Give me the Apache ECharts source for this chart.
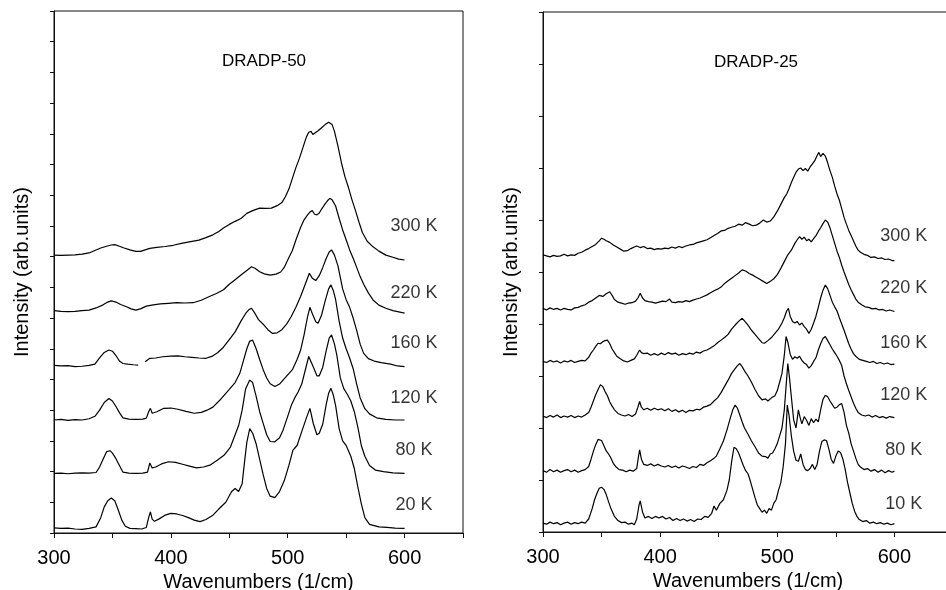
<!DOCTYPE html>
<html>
<head>
<meta charset="utf-8">
<script src="https://cdn.jsdelivr.net/npm/echarts@6/dist/echarts.min.js"></script>
<style>
html,body{margin:0;padding:0;background:#fff;}
#chart{width:946px;height:590px;}
</style>
</head>
<body>
<div id="chart"></div>
<script>
// ---------- DATA (wavenumber [1/cm], stacked intensity [arb. units]) ----------
// Left panel: DRADP-50
const L20 = [[300,0.17],[306,0.15],[312,0.16],[318,0.13],[324,0.12],[330,0.15],[336,0.2],[340,0.5],[343,0.85],[346,1.05],[349,1.14],[352,1.05],[355,0.75],[358,0.42],[361,0.22],[365,0.15],[370,0.14],[375,0.13],[379,0.18],[381,0.5],[382.5,0.69],[384,0.45],[386,0.38],[390,0.46],[395,0.58],[400,0.64],[405,0.62],[410,0.57],[415,0.5],[420,0.42],[425,0.37],[430,0.44],[436,0.58],[441,0.78],[447,1.0],[452,1.35],[455,1.45],[458,1.35],[461,1.6],[463,2.3],[465,2.95],[467.5,3.4],[470,3.25],[473,2.9],[476,2.4],[479,1.9],[482,1.45],[485,1.2],[489,1.15],[493,1.35],[497,1.7],[501,2.2],[504.5,2.7],[508,2.85],[512,3.3],[516,3.75],[519,4.06],[522,3.55],[525,3.2],[527,3.25],[530,3.55],[533,4.2],[535,4.55],[537,4.71],[539,4.5],[541,4.15],[544,3.4],[547,3.0],[550,2.85],[554,2.5],[557,2.1],[560,1.5],[563,0.95],[566,0.5],[570,0.28],[578,0.2],[585,0.18],[592,0.16],[600,0.15]];
const L80 = [[300,1.94],[306,1.95],[312,1.93],[318,1.95],[324,1.96],[330,1.95],[336,1.97],[339,2.15],[342,2.4],[345,2.65],[348,2.68],[350,2.6],[353,2.42],[356,2.2],[359,1.98],[364,1.95],[370,1.94],[376,1.95],[380,1.98],[382,2.28],[384,2.12],[387,2.15],[392,2.25],[398,2.32],[404,2.3],[410,2.24],[416,2.18],[422,2.12],[428,2.15],[434,2.22],[440,2.38],[446,2.55],[451,2.8],[455,3.2],[458,3.5],[461,4.0],[464,4.7],[467.5,4.98],[470,4.9],[473,4.45],[476,3.95],[479,3.57],[482,3.2],[485,2.98],[489,2.97],[493,3.1],[496,3.35],[500,3.8],[503,4.15],[506,4.4],[509,4.6],[512,4.85],[515,5.3],[518,5.75],[519.5,5.8],[522,5.4],[525,5.12],[527,5.12],[530,5.4],[533,5.95],[535.5,6.35],[537.5,6.45],[540,6.15],[542,5.8],[545,5.05],[548,4.7],[551,4.52],[554,4.3],[557,3.95],[560,3.45],[563,2.85],[566,2.5],[570,2.2],[575,2.05],[582,2.0],[590,1.96],[600,1.94]];
const L120 = [[300,3.68],[306,3.7],[312,3.67],[318,3.69],[324,3.68],[330,3.72],[335,3.8],[339,4.0],[343,4.25],[347,4.38],[350,4.3],[353,4.12],[356,3.92],[359,3.75],[364,3.71],[370,3.7],[376,3.71],[379,3.74],[381,3.95],[382.5,4.06],[384,3.9],[388,3.95],[394,4.06],[400,4.07],[406,4.03],[413,3.96],[420,3.9],[426,3.93],[431,4.0],[436,4.1],[442,4.33],[447,4.55],[450,4.68],[455,4.9],[459,5.2],[462,5.6],[465,6.0],[467.5,6.25],[470,6.28],[473,6.0],[476,5.65],[479,5.32],[482,5.05],[485,4.86],[489,4.77],[493,4.85],[496,4.98],[500,5.15],[504,5.32],[508,5.65],[511,5.95],[514,6.45],[517,7.05],[519,7.35],[521,7.15],[524,6.88],[526,6.83],[529,7.1],[532,7.55],[535,7.95],[537,8.08],[539,7.9],[541,7.6],[544,6.9],[547,6.35],[550,6.0],[553,5.7],[556,5.35],[559,4.85],[562,4.4],[566,4.05],[570,3.88],[576,3.75],[584,3.7],[592,3.68],[600,3.68]];
const L160 = [[300,5.46],[306,5.44],[312,5.45],[318,5.42],[324,5.43],[330,5.46],[335,5.5],[339,5.7],[343,5.88],[347,5.96],[350,5.92],[353,5.78],[356,5.6],[359,5.52],[363,5.5],[368,5.48],[372,5.47],[375,null],[378,5.58],[382,5.69],[387,5.7],[393,5.74],[400,5.76],[406,5.77],[412,5.74],[418,5.72],[424,5.7],[430,5.69],[435,5.75],[440,5.87],[445,6.05],[450,6.3],[455,6.55],[460,6.9],[464,7.15],[467,7.28],[469,7.32],[472,7.15],[475,6.95],[479,6.8],[483,6.62],[487,6.5],[491,6.52],[495,6.62],[499,6.8],[503,7.05],[507,7.35],[511,7.7],[515,8.1],[518.5,8.46],[521,8.3],[524,8.22],[527,8.38],[530,8.65],[533,8.95],[535.5,9.15],[537.5,9.22],[540,9.05],[543,8.7],[547,7.95],[550,7.6],[553,7.35],[556,7.0],[559,6.6],[562,6.15],[565,5.85],[569,5.68],[574,5.6],[580,5.55],[588,5.5],[594,5.44],[600,5.42]];
const L220 = [[300,7.24],[306,7.22],[312,7.21],[318,7.22],[324,7.24],[330,7.26],[336,7.33],[342,7.43],[346,7.52],[349,7.56],[353,7.52],[357,7.44],[362,7.37],[366,7.3],[370,7.26],[374,7.3],[379,7.39],[385,7.43],[391,7.46],[398,7.48],[405,7.5],[412,7.49],[419,7.5],[426,7.58],[433,7.7],[439,7.8],[445,7.92],[450,8.1],[455,8.25],[460,8.4],[465,8.55],[469,8.67],[472,8.62],[476,8.51],[480,8.44],[485,8.4],[490,8.43],[494,8.5],[497,8.65],[500,8.89],[504,9.2],[507,9.54],[511,9.95],[514,10.2],[517,10.36],[519,10.45],[521,10.5],[523,10.38],[525,10.36],[527,10.42],[529,10.55],[532,10.72],[534,10.82],[536,10.9],[538,10.85],[541,10.65],[544,10.25],[547,9.87],[550,9.55],[553,9.22],[556,8.95],[559,8.65],[562,8.35],[565,8.1],[569,7.82],[573,7.59],[578,7.42],[584,7.32],[590,7.24],[595,7.2],[600,7.16]];
const L300 = [[300,9.05],[306,9.04],[312,9.05],[318,9.06],[324,9.08],[330,9.12],[335,9.2],[340,9.28],[345,9.34],[349,9.38],[352,9.39],[356,9.34],[360,9.28],[365,9.22],[370,9.17],[374,9.17],[378,9.22],[382,9.27],[388,9.3],[395,9.33],[402,9.37],[410,9.44],[417,9.49],[424,9.54],[430,9.62],[436,9.71],[441,9.82],[445,9.93],[450,10.05],[455,10.15],[460,10.24],[465,10.41],[470,10.5],[476,10.58],[481,10.57],[486,10.58],[491,10.66],[495,10.76],[498,10.95],[501,11.2],[504,11.55],[507,11.9],[510,12.2],[513,12.55],[516,12.9],[518,13.05],[520,13.08],[521.5,12.98],[523,13.02],[526,13.1],[529,13.2],[532,13.3],[535,13.38],[536.5,13.4],[538,13.3],[540,13.08],[543,12.6],[546,12.05],[549,11.6],[552,11.25],[555,10.85],[558,10.5],[561,10.12],[564,9.78],[568,9.5],[573,9.32],[578,9.18],[584,9.05],[590,8.98],[595,8.92],[600,8.89]];

// Right panel: DRADP-25
const R10 = [[300,0.17],[303,0.15],[306,0.19],[309,0.16],[312,0.18],[315,0.14],[318,0.17],[321,0.19],[324,0.15],[327,0.18],[330,0.16],[333,0.19],[336,0.17],[339,0.25],[342,0.45],[344,0.62],[346,0.74],[348,0.84],[350,0.86],[352,0.82],[354,0.72],[356,0.58],[358,0.45],[361,0.3],[364,0.22],[367,0.18],[370,0.19],[373,0.15],[376,0.17],[378,0.14],[380,0.25],[382,0.52],[383,0.6],[385,0.38],[387,0.27],[390,0.3],[393,0.26],[396,0.3],[399,0.27],[402,0.3],[405,0.25],[408,0.28],[411,0.22],[414,0.26],[417,0.22],[420,0.25],[423,0.21],[426,0.24],[429,0.2],[432,0.25],[435,0.24],[438,0.3],[441,0.28],[444,0.36],[446,0.5],[448,0.42],[451,0.55],[454,0.62],[457,0.8],[459,1.0],[461,1.35],[463,1.63],[465,1.6],[467,1.52],[469,1.4],[471,1.28],[473,1.18],[475,1.12],[477,0.98],[479,0.82],[481,0.66],[483,0.52],[485,0.45],[487,0.38],[489,0.42],[491,0.36],[493,0.45],[495,0.42],[497,0.55],[499,0.62],[501,0.8],[503,0.95],[505,1.25],[507,1.7],[508.5,2.44],[510,2.25],[512,1.85],[514,1.55],[516,1.38],[518,1.36],[520,1.5],[522,1.3],[524,1.2],[526,1.18],[528,1.22],[530,1.3],[532,1.2],[534,1.3],[536,1.55],[538,1.74],[540,1.77],[542,1.76],[544,1.6],[546,1.4],[548,1.32],[550,1.46],[552,1.56],[554,1.53],[556,1.4],[558,1.2],[560,0.95],[562,0.75],[564,0.55],[566,0.4],[568,0.3],[570,0.24],[573,0.2],[576,0.22],[579,0.17],[582,0.19],[585,0.16],[588,0.18],[591,0.15],[594,0.17],[597,0.14],[600,0.16]];
const R80 = [[300,1.18],[303,1.15],[306,1.2],[309,1.16],[312,1.19],[315,1.15],[318,1.18],[321,1.2],[324,1.16],[327,1.19],[330,1.15],[333,1.18],[336,1.2],[339,1.26],[341,1.4],[343,1.55],[345,1.68],[347,1.78],[348.5,1.8],[350,1.76],[352,1.66],[354,1.56],[356,1.5],[358,1.42],[360,1.32],[362,1.26],[365,1.2],[368,1.19],[371,1.16],[374,1.19],[377,1.17],[380,1.22],[381.5,1.45],[382.5,1.58],[384,1.4],[386,1.3],[389,1.28],[392,1.31],[395,1.27],[398,1.3],[401,1.27],[404,1.25],[407,1.28],[410,1.24],[413,1.27],[416,1.23],[419,1.27],[422,1.25],[425,1.22],[428,1.26],[431,1.24],[434,1.3],[437,1.28],[440,1.33],[443,1.37],[446,1.42],[448,1.46],[451,1.6],[454,1.75],[457,1.96],[460,2.2],[462,2.35],[464,2.44],[466,2.38],[468,2.25],[470,2.12],[472,2.0],[475,1.88],[478,1.75],[481,1.64],[484,1.52],[487,1.46],[490,1.45],[492,1.42],[494,1.5],[496,1.52],[498,1.6],[500,1.7],[502,1.85],[504,2.0],[506,2.35],[507.5,2.8],[509,3.24],[510.5,2.95],[512,2.6],[514,2.15],[516,2.0],[518,2.35],[519.5,2.2],[521,2.08],[523,2.22],[525,2.15],[527,2.05],[529,2.18],[531,2.1],[533,2.17],[535,2.12],[537,2.35],[539,2.55],[541,2.63],[543,2.6],[545,2.52],[547,2.45],[549,2.38],[551,2.4],[553,2.45],[555,2.47],[557,2.3],[559,2.05],[561,1.9],[563,1.7],[565,1.56],[567,1.42],[569,1.3],[571,1.25],[574,1.2],[577,1.22],[580,1.17],[583,1.2],[586,1.15],[589,1.19],[592,1.14],[595,1.18],[598,1.15],[600,1.17]];
const R120 = [[300,2.23],[303,2.2],[306,2.24],[309,2.21],[312,2.25],[315,2.2],[318,2.23],[321,2.21],[324,2.24],[327,2.2],[330,2.23],[333,2.21],[336,2.25],[339,2.3],[341,2.4],[343,2.52],[345,2.64],[347,2.74],[349,2.83],[351,2.8],[353,2.7],[355,2.62],[357,2.5],[359,2.42],[361,2.35],[364,2.28],[367,2.25],[370,2.23],[373,2.26],[376,2.22],[379,2.27],[381,2.4],[382.5,2.51],[384,2.4],[386,2.35],[389,2.38],[392,2.34],[395,2.38],[398,2.35],[401,2.37],[404,2.33],[407,2.37],[410,2.32],[413,2.35],[416,2.31],[419,2.34],[422,2.3],[425,2.34],[428,2.33],[431,2.36],[434,2.35],[437,2.4],[440,2.42],[443,2.45],[446,2.52],[449,2.58],[452,2.68],[455,2.8],[458,2.92],[461,3.05],[464,3.14],[466,3.2],[468,3.24],[470,3.18],[472,3.1],[475,3.0],[478,2.88],[481,2.74],[484,2.62],[487,2.54],[490,2.56],[492,2.52],[495,2.58],[498,2.62],[500,2.72],[502,2.88],[504,3.05],[506,3.4],[507.5,3.76],[509,3.65],[511,3.42],[513,3.32],[515,3.37],[517,3.34],[519,3.38],[521,3.3],[523,3.25],[525,3.22],[527,3.15],[529,3.2],[531,3.28],[533,3.35],[535,3.5],[537,3.62],[539,3.72],[541,3.76],[543,3.68],[545,3.6],[547,3.52],[549,3.45],[551,3.38],[553,3.3],[555,3.2],[557,3.0],[559,2.85],[561,2.72],[563,2.6],[565,2.48],[567,2.38],[569,2.3],[572,2.25],[575,2.23],[578,2.25],[581,2.21],[584,2.24],[587,2.2],[590,2.22],[593,2.19],[596,2.22],[600,2.2]];
const R160 = [[300,3.28],[303,3.26],[306,3.3],[309,3.27],[312,3.29],[315,3.25],[318,3.29],[321,3.27],[324,3.3],[327,3.26],[330,3.28],[333,3.3],[336,3.29],[339,3.36],[341,3.44],[343,3.5],[345,3.57],[347,3.63],[349,3.62],[351,3.66],[353,3.68],[355,3.69],[357,3.62],[359,3.52],[361,3.45],[363,3.38],[366,3.33],[369,3.29],[372,3.27],[375,3.3],[378,3.33],[380,3.4],[382.5,3.5],[384,3.45],[386,3.43],[389,3.44],[392,3.4],[395,3.43],[398,3.4],[401,3.44],[404,3.41],[407,3.45],[410,3.42],[413,3.44],[416,3.4],[419,3.43],[422,3.41],[425,3.44],[428,3.42],[431,3.46],[434,3.44],[437,3.48],[440,3.5],[443,3.54],[446,3.58],[449,3.64],[452,3.69],[455,3.74],[458,3.8],[461,3.9],[464,3.98],[467,4.05],[470,4.11],[472,4.06],[475,3.98],[478,3.88],[481,3.8],[484,3.72],[487,3.64],[489,3.63],[492,3.68],[495,3.74],[498,3.82],[501,3.9],[504,4.02],[506,4.12],[508,4.25],[509.5,4.3],[511,4.15],[513,4.05],[515,4.02],[517,4.05],[519,3.98],[521,4.02],[523,3.95],[525,3.9],[527,3.82],[529,3.9],[531,4.02],[533,4.15],[535,4.32],[537,4.5],[539,4.65],[541,4.75],[543,4.68],[545,4.55],[547,4.42],[549,4.33],[551,4.25],[553,4.12],[555,4.0],[557,3.88],[559,3.75],[561,3.62],[563,3.52],[565,3.43],[567,3.38],[570,3.32],[573,3.3],[576,3.28],[579,3.26],[582,3.28],[585,3.24],[588,3.26],[591,3.23],[594,3.25],[597,3.22],[600,3.23]];
const R220 = [[300,4.3],[303,4.27],[306,4.31],[309,4.28],[312,4.3],[315,4.27],[318,4.3],[321,4.28],[324,4.27],[327,4.31],[330,4.32],[333,4.35],[336,4.37],[339,4.42],[342,4.45],[345,4.5],[348,4.55],[351,4.53],[354,4.58],[357,4.62],[359,4.55],[361,4.47],[364,4.42],[367,4.4],[370,4.38],[373,4.4],[376,4.41],[379,4.44],[381,4.5],[383,4.59],[385,4.5],[387,4.45],[390,4.43],[393,4.42],[396,4.4],[399,4.42],[402,4.44],[405,4.43],[408,4.48],[410,4.42],[413,4.41],[416,4.43],[419,4.42],[422,4.45],[425,4.43],[428,4.46],[431,4.48],[434,4.5],[437,4.53],[440,4.56],[443,4.6],[446,4.64],[449,4.67],[452,4.71],[455,4.78],[458,4.83],[461,4.88],[464,4.93],[467,4.98],[470,5.04],[473,5.02],[476,4.97],[479,4.94],[482,4.9],[485,4.86],[488,4.82],[491,4.78],[494,4.82],[497,4.87],[500,4.95],[503,5.07],[506,5.2],[509,5.33],[512,5.42],[515,5.55],[517,5.62],[519,5.68],[521,5.63],[523,5.67],[525,5.6],[527,5.63],[529,5.58],[531,5.64],[533,5.7],[535,5.78],[537,5.85],[539,5.93],[541,6.0],[543,5.96],[545,5.85],[547,5.7],[549,5.55],[551,5.4],[553,5.28],[555,5.13],[557,5.0],[559,4.88],[561,4.76],[563,4.66],[565,4.57],[567,4.48],[569,4.42],[572,4.37],[575,4.33],[578,4.32],[581,4.29],[584,4.3],[587,4.27],[590,4.28],[593,4.25],[596,4.27],[600,4.24]];
const R300 = [[300,5.33],[303,5.31],[306,5.29],[309,5.32],[312,5.3],[315,5.31],[318,5.34],[321,5.31],[324,5.33],[327,5.32],[330,5.36],[333,5.38],[336,5.42],[339,5.45],[342,5.49],[345,5.53],[348,5.6],[350,5.65],[352,5.63],[354,5.6],[357,5.57],[360,5.52],[363,5.48],[366,5.44],[369,5.4],[372,5.41],[375,5.45],[378,5.48],[380,5.5],[383,5.47],[386,5.49],[389,5.45],[392,5.46],[395,5.43],[398,5.45],[401,5.44],[404,5.46],[407,5.45],[410,5.48],[413,5.46],[416,5.49],[419,5.47],[422,5.5],[425,5.52],[428,5.53],[431,5.56],[434,5.58],[437,5.6],[440,5.62],[443,5.66],[446,5.7],[449,5.74],[452,5.79],[455,5.8],[458,5.84],[461,5.86],[464,5.88],[467,5.92],[470,5.9],[473,5.95],[476,5.92],[479,5.89],[482,5.9],[485,5.94],[488,6.0],[491,5.96],[494,5.98],[497,6.06],[500,6.17],[503,6.3],[506,6.43],[508,6.5],[510,6.6],[512,6.72],[514,6.82],[516,6.92],[518,6.98],[520,7.0],[522,6.95],[524,6.99],[526,6.94],[528,7.02],[530,7.08],[532,7.14],[534,7.24],[535.5,7.3],[537,7.22],[539,7.28],[541,7.23],[543,7.1],[545,6.95],[547,6.82],[549,6.65],[551,6.5],[553,6.38],[555,6.22],[557,6.05],[559,5.92],[561,5.8],[563,5.7],[565,5.6],[567,5.5],[569,5.42],[571,5.38],[574,5.34],[577,5.32],[580,5.28],[583,5.29],[586,5.26],[589,5.27],[592,5.24],[595,5.25],[598,5.22],[600,5.22]];

// Curve labels (temperature) and their positions in data units
const labelsLeft = ['300 K','220 K','160 K','120 K','80 K','20 K'];
const labelYLeft = [10.0, 7.82, 6.18, 4.4, 2.69, 0.9];
const labelsRight = ['300 K','220 K','160 K','120 K','80 K','10 K'];
const labelYRight = [5.69, 4.7, 3.63, 2.63, 1.57, 0.53];
const labelX = 608;

const panelTitles = ['DRADP-50', 'DRADP-25'];
const xTickValues = [300, 400, 500, 600];

// ---------- CHART ----------
const FONT = '"Liberation Sans", Arial, Helvetica, sans-serif';
const INK = '#000';

function xAx(gi) {
  return {
    type: 'value', gridIndex: gi, min: 300, max: 650, interval: 50,
    name: 'Wavenumbers (1/cm)', nameLocation: 'middle', nameGap: 39,
    nameTextStyle: { fontFamily: FONT, fontSize: 20, color: INK },
    axisLine: { show: true, lineStyle: { color: '#111', width: 1 } },
    axisTick: { show: true, inside: false, length: 5, lineStyle: { color: '#111' } },
    axisLabel: { show: true, margin: 15, fontFamily: FONT, fontSize: 20, color: INK,
      formatter: v => (xTickValues.indexOf(v) >= 0 ? String(v) : '') },
    splitLine: { show: false }
  };
}
function yAx(gi, maxV) {
  return {
    type: 'value', gridIndex: gi, min: 0, max: maxV, interval: 1,
    name: 'Intensity (arb.units)', nameLocation: 'middle', nameGap: 22,
    nameTextStyle: { fontFamily: FONT, fontSize: 20, color: INK },
    axisLine: { show: true, lineStyle: { color: '#111', width: 1 } },
    axisTick: { show: true, inside: false, length: 4, lineStyle: { color: '#111' } },
    axisLabel: { show: false },
    splitLine: { show: false }
  };
}
function lineSeries(data, gi) {
  return {
    type: 'line', xAxisIndex: gi, yAxisIndex: gi, data: data,
    showSymbol: false, symbol: 'none', connectNulls: false, smooth: false,
    lineStyle: { color: '#000', width: 1.2 }, silent: true, z: 3
  };
}
function labelSeries(names, ys, gi) {
  return {
    type: 'scatter', xAxisIndex: gi, yAxisIndex: gi, symbolSize: 1,
    itemStyle: { color: 'rgba(0,0,0,0)' }, silent: true,
    data: names.map((n, i) => ({ name: n, value: [labelX, ys[i]] })),
    label: { show: true, position: 'inside', formatter: p => p.name,
      fontFamily: FONT, fontSize: 18, color: INK }
  };
}

const chart = echarts.init(document.getElementById('chart'), null, { renderer: 'canvas' });
chart.setOption({
  animation: false,
  backgroundColor: '#fff',
  grid: [
    { left: 54, top: 11, width: 409, height: 522, show: true, borderColor: '#111', borderWidth: 1, containLabel: false, outerBoundsMode: 'none' },
    { left: 543, top: 12, width: 410, height: 520, show: true, borderColor: '#111', borderWidth: 1, containLabel: false, outerBoundsMode: 'none' }
  ],
  xAxis: [xAx(0), xAx(1)],
  yAxis: [yAx(0, 17), yAx(1, 10)],
  graphic: [
    { type: 'text', x: 264, y: 61, style: { text: panelTitles[0], font: '17px ' + FONT, fill: INK, align: 'center', verticalAlign: 'middle', textAlign: 'center', textVerticalAlign: 'middle' } },
    { type: 'text', x: 756, y: 62, style: { text: panelTitles[1], font: '17px ' + FONT, fill: INK, align: 'center', verticalAlign: 'middle', textAlign: 'center', textVerticalAlign: 'middle' } }
  ],
  series: [
    lineSeries(L20, 0), lineSeries(L80, 0), lineSeries(L120, 0), lineSeries(L160, 0), lineSeries(L220, 0), lineSeries(L300, 0),
    lineSeries(R10, 1), lineSeries(R80, 1), lineSeries(R120, 1), lineSeries(R160, 1), lineSeries(R220, 1), lineSeries(R300, 1),
    labelSeries(labelsLeft, labelYLeft, 0),
    labelSeries(labelsRight, labelYRight, 1)
  ]
});
</script>
</body>
</html>
